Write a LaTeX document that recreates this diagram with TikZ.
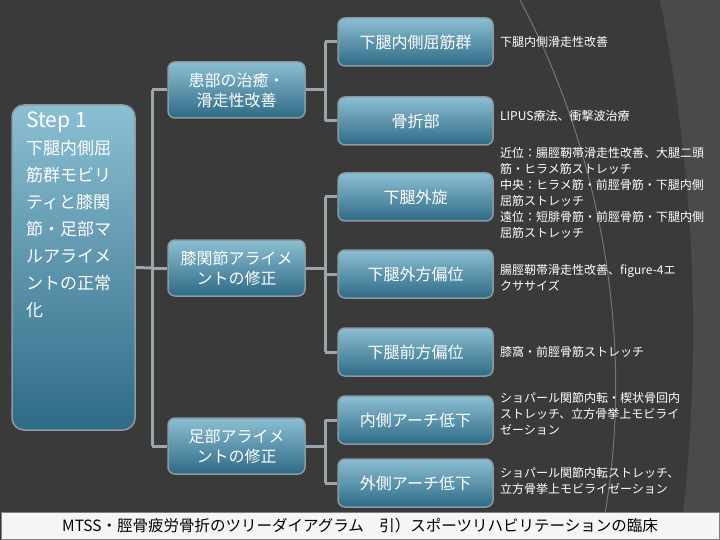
\documentclass[tikz,border=0pt]{standalone}
\usepackage{fontspec}
\setmainfont{Noto Sans CJK JP}
\usetikzlibrary{positioning}

\definecolor{bgdark}{HTML}{3A3A3A}
\definecolor{boxtop}{HTML}{8CBFD2}
\definecolor{boxbot}{HTML}{2E6A86}
\definecolor{boxline}{HTML}{8C9AA3}
\definecolor{linkgray}{HTML}{9AA6AE}

\tikzset{
    box/.style={rounded corners=7pt, draw=boxline, line width=1.5pt,
        top color=boxtop, bottom color=boxbot, text=white, align=center,
        inner sep=0pt},
    midbox/.style={box, minimum width=137pt, minimum height=56pt, font=\fontsize{16}{20}\selectfont},
    leafbox/.style={box, minimum width=155pt, minimum height=48pt, font=\fontsize{16}{20}\selectfont},
    note/.style={anchor=west, align=left, text=white, font=\fontsize{12}{16}\selectfont, inner sep=0pt},
    link/.style={draw=linkgray, line width=3pt},
}

\begin{document}
\begin{tikzpicture}[x=1pt, y=-1pt]

    \useasboundingbox (0,0) rectangle (720,540);
    \fill[bgdark] (0,0) rectangle (720,540);
    % faint background curves
    \draw[white!30!bgdark, line width=1pt] (520,0) .. controls (600,150) and (640,350) .. (600,540);
    \fill[white!8!bgdark] (660,0) .. controls (700,200) and (700,380) .. (680,540) -- (720,540) -- (720,0) -- cycle;

    % root
    \node[box, minimum width=123pt, minimum height=325pt, rounded corners=12pt] (root) at (73.5,267.5) {};
    \node[anchor=north west, text=white, align=left, inner sep=0pt,
        font=\fontsize{17}{27}\selectfont] (roottxt) at (26,112)
        {{\fontsize{21}{27}\selectfont Step 1}\\
         下腿内側屈\\筋群モビリ\\ティと膝関\\節・足部マ\\ルアライメ\\ントの正常\\化};

    % second level
    \node[midbox] (heal) at (236.5,90) {患部の治癒・\\滑走性改善};
    \node[midbox] (knee) at (236.5,268) {膝関節アライメ\\ントの修正};
    \node[midbox] (foot) at (236.5,446) {足部アライメ\\ントの修正};

    % third level
    \node[leafbox] (flex) at (415.5,42) {下腿内側屈筋群};
    \node[leafbox] (frac) at (415.5,121) {骨折部};
    \node[leafbox] (rot) at (415.5,197) {下腿外旋};
    \node[leafbox] (lat) at (415.5,274) {下腿外方偏位};
    \node[leafbox] (ant) at (415.5,352) {下腿前方偏位};
    \node[leafbox] (med) at (415.5,420) {内側アーチ低下};
    \node[leafbox] (latarch) at (415.5,483) {外側アーチ低下};

    % notes
    \node[note] (n1) at (500,42) {下腿内側滑走性改善};
    \node[note] (n2) at (500,116) {LIPUS療法、衝撃波治療};
    \node[note] (n3) at (500,193) {近位：腸脛靭帯滑走性改善、大腿二頭\\筋・ヒラメ筋ストレッチ\\中央：ヒラメ筋・前脛骨筋・下腿内側\\屈筋ストレッチ\\遠位：短腓骨筋・前脛骨筋・下腿内側\\屈筋ストレッチ};
    \node[note] (n4) at (500,278) {腸脛靭帯滑走性改善、figure-4エ\\クササイズ};
    \node[note] (n5) at (500,352) {膝窩・前脛骨筋ストレッチ};
    \node[note] (n6) at (500,414) {ショパール関節内転・楔状骨回内\\ストレッチ、立方骨挙上モビライ\\ゼーション};
    \node[note] (n7) at (500,481) {ショパール関節内転ストレッチ、\\立方骨挙上モビライゼーション};

    % connectors
    \coordinate (j1) at (152,268);
    \coordinate (j2) at (325,90);
    \coordinate (j3) at (325,268);
    \coordinate (j4) at (325,446);
    \draw[link] (root.east) -- (j1);
    \draw[link] (j1 |- heal) -- (j1 |- foot);
    \foreach \n in {heal, knee, foot}
        \draw[link] (j1 |- \n) -- (\n.west);
    \draw[link] (heal.east) -- (j2);
    \draw[link] (j2 |- flex) -- (j2 |- frac);
    \foreach \n in {flex, frac}
        \draw[link] (j2 |- \n) -- (\n.west);
    \draw[link] (knee.east) -- (j3);
    \draw[link] (j3 |- rot) -- (j3 |- ant);
    \foreach \n in {rot, lat, ant}
        \draw[link] (j3 |- \n) -- (\n.west);
    \draw[link] (foot.east) -- (j4);
    \draw[link] (j4 |- med) -- (j4 |- latarch);
    \foreach \n in {med, latarch}
        \draw[link] (j4 |- \n) -- (\n.west);

    % caption bar
    \node[draw=gray, line width=1pt, fill=white!92!gray, minimum width=718pt, minimum height=27pt,
        inner sep=0pt, font=\fontsize{15.5}{17}\selectfont] (cap) at (360,526)
        {MTSS・脛骨疲労骨折のツリーダイアグラム\quad 引）スポーツリハビリテーションの臨床};

\end{tikzpicture}
\end{document}
